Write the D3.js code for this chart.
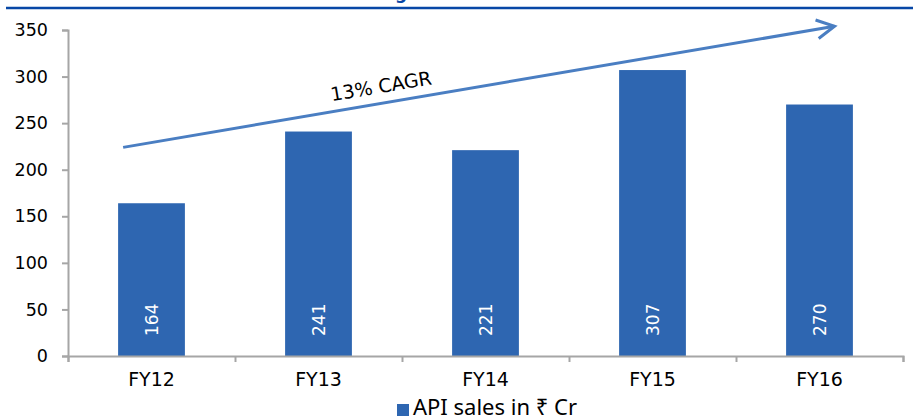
<!DOCTYPE html>
<html>
<head>
<meta charset="utf-8">
<script src="https://cdn.jsdelivr.net/npm/d3@7"></script>
<style>
  body { margin: 0; background: #fff; }
  svg { display: block; font-family: "DejaVu Sans", sans-serif; }
</style>
</head>
<body>
<svg></svg>
<script>
const categories = ["FY12", "FY13", "FY14", "FY15", "FY16"];
const sales = [164, 241, 221, 307, 270];
const yTicks = [0, 50, 100, 150, 200, 250, 300, 350];
const seriesName = "API sales in ₹ Cr";
const cagrLabel = "13% CAGR";
// arrow ends: [position in category units, value]
const cagrFrom = [0.33, 224];
const cagrTo = [4.59, 354];

const width = 913;
const height = 418;
const plotLeft = 68;
const plotRight = 903;
const plotTop = 30;
const plotBottom = 356;

const svg = d3.select("svg").attr("width", width).attr("height", height);

const xScale = d3
  .scaleBand()
  .domain(categories)
  .range([plotLeft, plotRight])
  .paddingInner(0.6)
  .paddingOuter(0.3);

const xEdge = d3.scaleLinear().domain([0, categories.length]).range([plotLeft, plotRight]);

const yScale = d3.scaleLinear().domain([0, 350]).range([plotBottom, plotTop]);

// title strip (title itself is cut off at the top)
svg
  .append("line")
  .attr("x1", 6)
  .attr("x2", width)
  .attr("y1", 8)
  .attr("y2", 8)
  .attr("stroke", "#0747a6")
  .attr("stroke-width", 2.5);

svg
  .append("text")
  .attr("x", 395)
  .attr("y", -1.5)
  .attr("fill", "#0747a6")
  .attr("font-weight", "bold")
  .attr("font-size", 17)
  .text("growth");

// bars
svg
  .selectAll("rect.bar")
  .data(categories)
  .enter()
  .append("rect")
  .attr("class", "bar")
  .attr("x", (d) => xScale(d))
  .attr("width", xScale.bandwidth())
  .attr("y", (d, i) => yScale(sales[i]))
  .attr("height", (d, i) => yScale(0) - yScale(sales[i]))
  .attr("fill", "#2e66b1");

svg
  .selectAll("text.val")
  .data(categories)
  .enter()
  .append("text")
  .attr("class", "val")
  .attr(
    "transform",
    (d) => `translate(${xScale(d) + xScale.bandwidth() / 2}, ${plotBottom - 20}) rotate(-90)`
  )
  .attr("dy", "0.36em")
  .attr("fill", "#fff")
  .attr("font-size", 17)
  .text((d, i) => sales[i]);

// axes
const yAxis = d3.axisLeft(yScale).tickValues(yTicks).tickSize(6).tickPadding(14);
const gy = svg.append("g").attr("transform", `translate(${plotLeft}, 0)`).call(yAxis);
gy.selectAll("path, line").attr("stroke", "#a6a6a6").attr("stroke-width", 2);
gy.selectAll("text").attr("font-size", 17.5).attr("fill", "#000").attr("font-family", "DejaVu Sans");

const xTicks = d3.axisBottom(xEdge).tickValues(d3.range(categories.length + 1)).tickFormat("").tickSize(6);
const gx = svg.append("g").attr("transform", `translate(0, ${plotBottom})`).call(xTicks);
gx.selectAll("path, line").attr("stroke", "#a6a6a6").attr("stroke-width", 2);

const xLabels = d3.axisBottom(xScale).tickSize(0).tickPadding(17);
const gxl = svg.append("g").attr("transform", `translate(0, ${plotBottom})`).call(xLabels);
gxl.select(".domain").remove();
gxl.selectAll("text").attr("font-size", 19).attr("fill", "#000").attr("font-family", "DejaVu Sans");

// CAGR arrow
const x1 = xEdge(cagrFrom[0]);
const y1 = yScale(cagrFrom[1]);
const x2 = xEdge(cagrTo[0]);
const y2 = yScale(cagrTo[1]);
const ang = Math.atan2(y2 - y1, x2 - x1);
const arm = 20;
const spread = (28 * Math.PI) / 180;

svg
  .append("line")
  .attr("x1", x1)
  .attr("y1", y1)
  .attr("x2", x2)
  .attr("y2", y2)
  .attr("stroke", "#4a7ec2")
  .attr("stroke-width", 3);

svg
  .append("path")
  .attr(
    "d",
    d3.line()([
      [x2 - arm * Math.cos(ang - spread), y2 - arm * Math.sin(ang - spread)],
      [x2, y2],
      [x2 - arm * Math.cos(ang + spread), y2 - arm * Math.sin(ang + spread)],
    ])
  )
  .attr("fill", "none")
  .attr("stroke", "#4a7ec2")
  .attr("stroke-width", 3)
  .attr("stroke-linejoin", "miter");

svg
  .append("text")
  .attr("transform", `translate(381, 86) rotate(${(ang * 180) / Math.PI})`)
  .attr("text-anchor", "middle")
  .attr("dy", "0.36em")
  .attr("font-size", 19)
  .attr("fill", "#000")
  .text(cagrLabel);

// legend
const legend = svg.append("g").attr("transform", "translate(397, 404)");
legend.append("rect").attr("width", 12).attr("height", 12).attr("fill", "#2e66b1");
legend
  .append("text")
  .attr("x", 16)
  .attr("y", 11)
  .attr("font-family", "Noto Sans")
  .attr("font-size", 22)
  .attr("fill", "#000")
  .text(seriesName);
</script>
</body>
</html>
